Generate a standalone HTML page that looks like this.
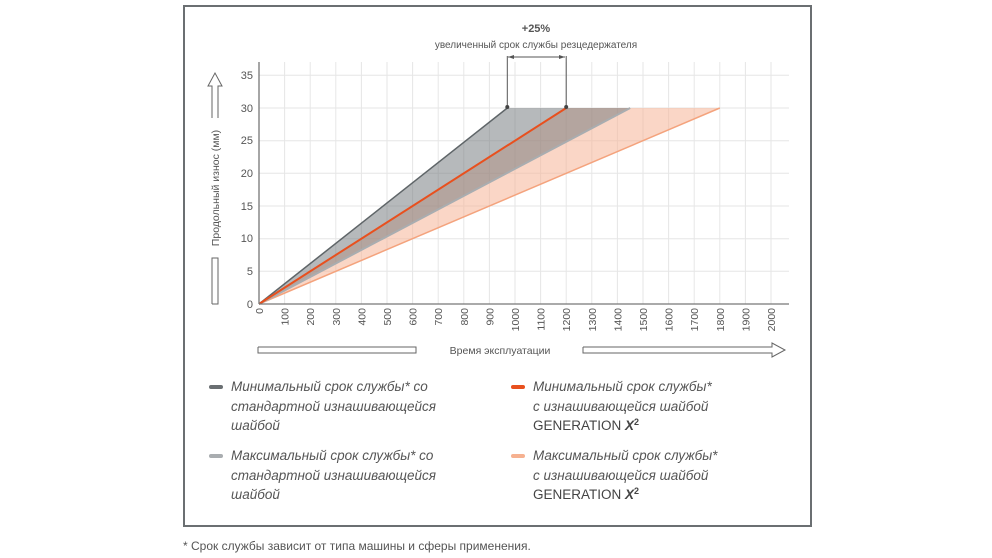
<!DOCTYPE html>
<html><head><meta charset="utf-8"><style>
body{margin:0;width:992px;height:558px;background:#fff;overflow:hidden;font-family:"Liberation Sans",sans-serif;}
.lg{position:absolute;font-size:13.5px;font-style:italic;color:#555;line-height:19.5px;}
.lg b{font-style:normal;font-weight:normal;color:#444}
.lg sup{font-size:9px;font-weight:bold;line-height:0;vertical-align:5px}
.mk{position:absolute;width:14px;height:4px;border-radius:2px}
</style></head><body>
<div style="position:absolute;left:183px;top:5px;width:625px;height:518px;border:2px solid #6b6f72"></div>
<svg width="992" height="558" style="position:absolute;left:0;top:0" font-family="Liberation Sans, sans-serif">
<g stroke="#e6e6e6" stroke-width="1">
<line x1="284.6" y1="62" x2="284.6" y2="304"/><line x1="310.2" y1="62" x2="310.2" y2="304"/><line x1="335.8" y1="62" x2="335.8" y2="304"/><line x1="361.4" y1="62" x2="361.4" y2="304"/><line x1="387" y1="62" x2="387" y2="304"/><line x1="412.6" y1="62" x2="412.6" y2="304"/><line x1="438.2" y1="62" x2="438.2" y2="304"/><line x1="463.8" y1="62" x2="463.8" y2="304"/><line x1="489.4" y1="62" x2="489.4" y2="304"/><line x1="515" y1="62" x2="515" y2="304"/><line x1="540.6" y1="62" x2="540.6" y2="304"/><line x1="566.2" y1="62" x2="566.2" y2="304"/><line x1="591.8" y1="62" x2="591.8" y2="304"/><line x1="617.4" y1="62" x2="617.4" y2="304"/><line x1="643" y1="62" x2="643" y2="304"/><line x1="668.6" y1="62" x2="668.6" y2="304"/><line x1="694.2" y1="62" x2="694.2" y2="304"/><line x1="719.8" y1="62" x2="719.8" y2="304"/><line x1="745.4" y1="62" x2="745.4" y2="304"/><line x1="771" y1="62" x2="771" y2="304"/>
<line x1="259" y1="271.3" x2="789" y2="271.3"/><line x1="259" y1="238.7" x2="789" y2="238.7"/><line x1="259" y1="206" x2="789" y2="206"/><line x1="259" y1="173.3" x2="789" y2="173.3"/><line x1="259" y1="140.7" x2="789" y2="140.7"/><line x1="259" y1="108" x2="789" y2="108"/><line x1="259" y1="75.3" x2="789" y2="75.3"/>
</g>
<polygon points="259,304 719.8,108 566.2,108" fill="#f6b597" fill-opacity="0.55"/>
<polygon points="259,304 507.3,108 630.2,108" fill="#6d7478" fill-opacity="0.5"/>
<line x1="259" y1="304" x2="719.8" y2="108" stroke="#f4a37d" stroke-width="1.5"/>
<line x1="259" y1="304" x2="630.2" y2="108" stroke="#a9adb0" stroke-width="2"/>
<line x1="259" y1="304" x2="507.3" y2="108" stroke="#5f6568" stroke-width="1.5"/>
<line x1="259" y1="304" x2="566.2" y2="108" stroke="#e8501e" stroke-width="2"/>
<line x1="259" y1="62" x2="259" y2="304" stroke="#777" stroke-width="1.3"/>
<line x1="259" y1="304" x2="789" y2="304" stroke="#777" stroke-width="1.3"/>
<g stroke="#555" stroke-width="1"><line x1="507.3" y1="56" x2="507.3" y2="108"/><line x1="566.2" y1="56" x2="566.2" y2="108"/><line x1="508" y1="57" x2="565" y2="57"/></g>
<polygon points="508,57 514,55 514,59" fill="#555"/><polygon points="565,57 559,55 559,59" fill="#555"/>
<circle cx="507.3" cy="107" r="2" fill="#444"/><circle cx="566.2" cy="107" r="2" fill="#444"/>
<text x="536" y="32" text-anchor="middle" font-size="11" font-weight="bold" fill="#555">+25%</text>
<text x="536" y="48" text-anchor="middle" font-size="10" fill="#555">увеличенный срок службы резцедержателя</text>
<g font-size="11" fill="#555" text-anchor="end">
<text x="253" y="308">0</text><text x="253" y="275">5</text><text x="253" y="242">10</text><text x="253" y="210">15</text><text x="253" y="177">20</text><text x="253" y="144">25</text><text x="253" y="112">30</text><text x="253" y="79">35</text></g>
<g font-size="10.5" fill="#555" text-anchor="end">
<text transform="translate(263,308) rotate(-90)">0</text><text transform="translate(288.6,308) rotate(-90)">100</text><text transform="translate(314.2,308) rotate(-90)">200</text><text transform="translate(339.8,308) rotate(-90)">300</text><text transform="translate(365.4,308) rotate(-90)">400</text><text transform="translate(391,308) rotate(-90)">500</text><text transform="translate(416.6,308) rotate(-90)">600</text><text transform="translate(442.2,308) rotate(-90)">700</text><text transform="translate(467.8,308) rotate(-90)">800</text><text transform="translate(493.4,308) rotate(-90)">900</text><text transform="translate(519,308) rotate(-90)">1000</text><text transform="translate(544.6,308) rotate(-90)">1100</text><text transform="translate(570.2,308) rotate(-90)">1200</text><text transform="translate(595.8,308) rotate(-90)">1300</text><text transform="translate(621.4,308) rotate(-90)">1400</text><text transform="translate(647,308) rotate(-90)">1500</text><text transform="translate(672.6,308) rotate(-90)">1600</text><text transform="translate(698.2,308) rotate(-90)">1700</text><text transform="translate(723.8,308) rotate(-90)">1800</text><text transform="translate(749.4,308) rotate(-90)">1900</text><text transform="translate(775,308) rotate(-90)">2000</text></g>
<g fill="none" stroke="#666" stroke-width="1">
<polyline points="258,347 416,347 416,353 258,353 258,347"/>
<polyline points="583,347 772,347 772,343 785,350 772,357 772,353 583,353 583,347"/>
<polyline points="212,304 218,304 218,258 212,258 212,304"/>
<polyline points="212,118 212,86 208,86 215,73 222,86 218,86 218,118"/>
</g>
<text x="500" y="354" text-anchor="middle" font-size="10.5" fill="#555">Время эксплуатации</text>
<text transform="translate(219,188) rotate(-90)" text-anchor="middle" font-size="10.5" fill="#555">Продольный износ (мм)</text>
</svg>
<div class="mk" style="left:209px;top:385px;background:#6a6f72"></div>
<div class="lg" style="left:231px;top:377px">Минимальный срок службы* со<br>стандартной изнашивающейся<br>шайбой</div>
<div class="mk" style="left:209px;top:454px;background:#a9adb0"></div>
<div class="lg" style="left:231px;top:446px">Максимальный срок службы* со<br>стандартной изнашивающейся<br>шайбой</div>
<div class="mk" style="left:511px;top:385px;background:#e8501e"></div>
<div class="lg" style="left:533px;top:377px">Минимальный срок службы*<br>с изнашивающейся шайбой<br><b>GENERATION <i style="font-weight:bold">X</i><sup>2</sup></b></div>
<div class="mk" style="left:511px;top:454px;background:#f6b190"></div>
<div class="lg" style="left:533px;top:446px">Максимальный срок службы*<br>с изнашивающейся шайбой<br><b>GENERATION <i style="font-weight:bold">X</i><sup>2</sup></b></div>
<div style="position:absolute;left:183px;top:539px;font-size:12px;color:#555">* Срок службы зависит от типа машины и сферы применения.</div>
</body></html>
